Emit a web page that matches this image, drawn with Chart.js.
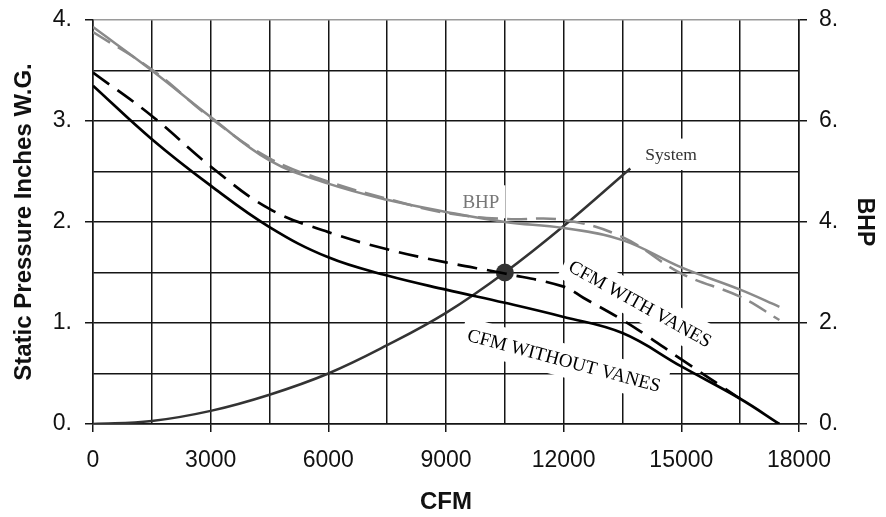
<!DOCTYPE html>
<html>
<head>
<meta charset="utf-8">
<script src="https://cdn.jsdelivr.net/npm/chart.js@4/dist/chart.umd.min.js"></script>
<style>
html,body{margin:0;padding:0;background:#fff;}
canvas{display:block;}
</style>
</head>
<body>
<canvas id="c" width="886" height="517"></canvas>
<script>
// ---- data ----
const cfm = [0, 1500, 3000, 4500, 6000, 7500, 9000, 10500, 12000, 13500, 15000, 16500, 17500];
const spWithoutVanes = [3.35, 2.82, 2.36, 1.95, 1.65, 1.47, 1.33, 1.20, 1.06, 0.90, 0.57, 0.25, 0.0];

const cfmWithVanes = [0, 1500, 3000, 4500, 6000, 7500, 9000, 10500, 12000, 12500, 13500, 14100, 15000, 16500];
const spWithVanes = [3.48, 3.05, 2.55, 2.13, 1.90, 1.73, 1.60, 1.49, 1.36, 1.25, 1.03, 0.88, 0.64, 0.25];

const bhpSolid = [7.86, 7.00, 6.08, 5.22, 4.76, 4.44, 4.20, 4.00, 3.88, 3.64, 3.10, 2.66, 2.32];
const bhpDashed = [7.76, 7.02, 6.06, 5.26, 4.80, 4.46, 4.18, 4.06, 4.04, 3.70, 2.98, 2.52, 2.06];

const cfmSystem = [0, 1500, 3000, 4500, 6000, 7500, 9000, 10500, 12000, 13700];
const spSystem = [0, 0.03, 0.13, 0.29, 0.50, 0.78, 1.10, 1.50, 1.96, 2.53];

const operatingPoint = {cfm: 10500, sp: 1.5};

const xTicks = [0, 3000, 6000, 9000, 12000, 15000, 18000];
const yTicks = [0, 1, 2, 3, 4];
const y2Ticks = [0, 2, 4, 6, 8];

const labels = [
  {text: 'System', x: 14740, y: 2.67, rot: 0, color: '#333', size: 17.5},
  {text: 'BHP', x: 9890, y: 2.20, rot: 0, color: '#777', size: 19},
  {text: 'CFM WITH VANES', x: 13950, y: 1.19, rot: 29, color: '#000', size: 19},
  {text: 'CFM WITHOUT VANES', x: 12010, y: 0.63, rot: 15, color: '#000', size: 19}
];

const pts = (xs, ys) => xs.map((x, i) => ({x: x, y: ys[i]}));

const GRID = '#151515';
const sans = "'Liberation Sans', Arial, sans-serif";
const serif = "'Liberation Serif', 'Times New Roman', serif";

const labelPlugin = {
  id: 'labels',
  beforeDatasetsDraw(chart) {
    const ctx = chart.ctx;
    const xs = chart.scales.x, ys = chart.scales.y;
    labels.forEach(l => {
      const px = xs.getPixelForValue(l.x), py = ys.getPixelForValue(l.y);
      ctx.save();
      ctx.translate(px, py);
      ctx.rotate(l.rot * Math.PI / 180);
      ctx.font = l.size + 'px ' + serif;
      const w = ctx.measureText(l.text).width;
      ctx.fillStyle = '#fff';
      ctx.fillRect(-w / 2 - 6, -l.size / 2 - 7, w + 12, l.size + 14);
      ctx.fillStyle = l.color;
      ctx.textAlign = 'center';
      ctx.textBaseline = 'middle';
      ctx.fillText(l.text, 0, 1);
      ctx.restore();
    });
  }
};

const minorTick = (keep) => (c) => (c.tick && keep.includes(c.tick.value)) ? GRID : 'rgba(0,0,0,0)';
const fitVertical = (w) => (s) => { s.width = w; s.paddingTop = 0; s.paddingBottom = 0; };

new Chart(document.getElementById('c'), {
  type: 'scatter',
  data: {
    datasets: [
      {data: pts(cfm, bhpDashed), yAxisID: 'y2', showLine: true, borderColor: '#8a8a8a', borderWidth: 2.5, borderDash: [20, 9], pointRadius: 0, tension: 0.4},
      {data: pts(cfm, bhpSolid), yAxisID: 'y2', showLine: true, borderColor: '#8a8a8a', borderWidth: 2.5, pointRadius: 0, tension: 0.4},
      {data: pts(cfmWithVanes, spWithVanes), yAxisID: 'y', showLine: true, borderColor: '#000', borderWidth: 2.7, borderDash: [20, 10], pointRadius: 0, tension: 0.4},
      {data: pts(cfm, spWithoutVanes), yAxisID: 'y', showLine: true, borderColor: '#000', borderWidth: 2.7, pointRadius: 0, tension: 0.4},
      {data: pts(cfmSystem, spSystem), yAxisID: 'y', showLine: true, borderColor: '#333', borderWidth: 2.5, pointRadius: 0, tension: 0.4},
      {data: [{x: operatingPoint.cfm, y: operatingPoint.sp}], yAxisID: 'y', showLine: false, pointRadius: 9, pointBackgroundColor: '#333', pointBorderColor: '#333', pointBorderWidth: 0}
    ]
  },
  options: {
    responsive: false,
    animation: false,
    events: [],
    layout: {padding: {top: 20, left: 0, right: 0, bottom: 0}},
    plugins: {legend: {display: false}, tooltip: {enabled: false}},
    scales: {
      x: {
        type: 'linear', min: 0, max: 18000,
        ticks: {stepSize: 1500, autoSkip: false, maxRotation: 0, color: '#111', padding: 15,
          font: {family: sans, size: 23},
          callback: (v) => xTicks.includes(v) ? String(v) : ''},
        grid: {color: GRID, lineWidth: 1.5, tickLength: 8, tickColor: minorTick(xTicks)},
        border: {color: GRID, width: 1.5},
        title: {display: true, text: 'CFM', color: '#111', font: {family: sans, size: 24, weight: 'bold'}, padding: {top: 0, bottom: 0}},
        afterFit: (s) => { s.height = 93; }
      },
      y: {
        type: 'linear', position: 'left', min: 0, max: 4,
        ticks: {stepSize: 0.5, autoSkip: false, color: '#111', padding: 13,
          font: {family: sans, size: 23},
          callback: (v) => yTicks.includes(v) ? v + '.' : ''},
        grid: {color: (c) => (c.tick && c.tick.value === 4) ? '#9a9a9a' : GRID, lineWidth: 1.5, tickLength: 8, tickColor: minorTick(yTicks)},
        border: {color: GRID, width: 1.5},
        title: {display: true, text: 'Static Pressure Inches W.G.', color: '#111', font: {family: sans, size: 24, weight: 'bold'}, padding: {top: 10, bottom: 0}},
        afterFit: fitVertical(93)
      },
      y2: {
        type: 'linear', position: 'right', min: 0, max: 8,
        ticks: {stepSize: 1, autoSkip: false, color: '#111', padding: 12,
          font: {family: sans, size: 23},
          callback: (v) => y2Ticks.includes(v) ? v + '.' : ''},
        grid: {drawOnChartArea: false, lineWidth: 1.5, tickLength: 8, tickColor: minorTick(y2Ticks)},
        border: {color: GRID, width: 1.5},
        title: {display: true, text: 'BHP', color: '#111', font: {family: sans, size: 23, weight: 'bold'}, padding: {top: 8, bottom: 0}},
        afterFit: fitVertical(87)
      }
    }
  },
  plugins: [labelPlugin]
});
</script>
</body>
</html>
